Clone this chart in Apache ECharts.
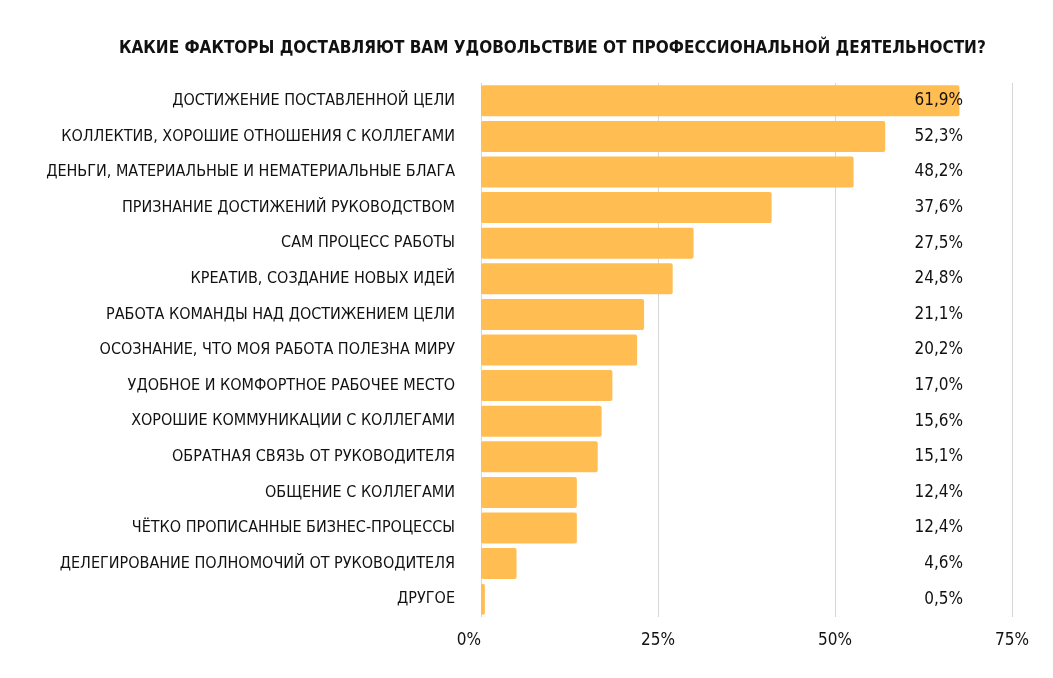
<!DOCTYPE html>
<html>
<head>
<meta charset="utf-8">
<title>Факторы удовольствия от профессиональной деятельности</title>
<script src="https://cdn.jsdelivr.net/npm/echarts@6.0.0/dist/echarts.min.js"></script>
<style>
  html, body { margin: 0; padding: 0; background: #fff; }
  #chart { width: 1053px; height: 678px; }
</style>
</head>
<body>
<div id="chart"></div>
<script>
const titleText = 'КАКИЕ ФАКТОРЫ ДОСТАВЛЯЮТ ВАМ УДОВОЛЬСТВИЕ ОТ ПРОФЕССИОНАЛЬНОЙ ДЕЯТЕЛЬНОСТИ?';

const categories = [
  'ДОСТИЖЕНИЕ ПОСТАВЛЕННОЙ ЦЕЛИ',
  'КОЛЛЕКТИВ, ХОРОШИЕ ОТНОШЕНИЯ С КОЛЛЕГАМИ',
  'ДЕНЬГИ, МАТЕРИАЛЬНЫЕ И НЕМАТЕРИАЛЬНЫЕ БЛАГА',
  'ПРИЗНАНИЕ ДОСТИЖЕНИЙ РУКОВОДСТВОМ',
  'САМ ПРОЦЕСС РАБОТЫ',
  'КРЕАТИВ, СОЗДАНИЕ НОВЫХ ИДЕЙ',
  'РАБОТА КОМАНДЫ НАД ДОСТИЖЕНИЕМ ЦЕЛИ',
  'ОСОЗНАНИЕ, ЧТО МОЯ РАБОТА ПОЛЕЗНА МИРУ',
  'УДОБНОЕ И КОМФОРТНОЕ РАБОЧЕЕ МЕСТО',
  'ХОРОШИЕ КОММУНИКАЦИИ С КОЛЛЕГАМИ',
  'ОБРАТНАЯ СВЯЗЬ ОТ РУКОВОДИТЕЛЯ',
  'ОБЩЕНИЕ С КОЛЛЕГАМИ',
  'ЧЁТКО ПРОПИСАННЫЕ БИЗНЕС-ПРОЦЕССЫ',
  'ДЕЛЕГИРОВАНИЕ ПОЛНОМОЧИЙ ОТ РУКОВОДИТЕЛЯ',
  'ДРУГОЕ'
];

const values = [61.9, 52.3, 48.2, 37.6, 27.5, 24.8, 21.1, 20.2, 17.0, 15.6, 15.1, 12.4, 12.4, 4.6, 0.5];

// scale shown under the chart
const axisMin = 0;
const axisMax = 75;
const axisStep = 25;

const valueLabels = values.map(v => v.toFixed(1).replace('.', ',') + '%');

const FONT = "'Liberation Sans Narrow', 'DejaVu Sans Condensed', 'DejaVu Sans', sans-serif";

const myChart = echarts.init(document.getElementById('chart'));

const option = {
  backgroundColor: '#ffffff',
  animation: false,
  title: {
    text: titleText,
    left: 114,
    top: 35,
    textStyle: {
      fontFamily: FONT,
      fontWeight: 'bold',
      fontSize: 17,
      color: '#111111'
    }
  },
  grid: {
    left: 481,
    right: 41,
    top: 83,
    bottom: 61
  },
  xAxis: [
    {
      type: 'value',
      min: axisMin,
      max: axisMax,
      interval: axisStep,
      axisLine: { show: false },
      axisTick: { show: false },
      splitLine: {
        show: true,
        lineStyle: { color: '#d6d6d6', width: 1 }
      },
      axisLabel: {
        formatter: '{value}%',
        color: '#111111',
        fontFamily: FONT,
        fontSize: 17,
        margin: 15,
        alignMinLabel: 'right'
      }
    },
    {
      // the bars in the picture run on a slightly wider scale than the grid
      type: 'value',
      min: 0,
      max: 68.7,
      show: false
    }
  ],
  yAxis: [
    {
      type: 'category',
      inverse: true,
      data: categories,
      axisLine: { show: false },
      axisTick: { show: false },
      axisLabel: {
        color: '#111111',
        fontFamily: FONT,
        fontSize: 16,
        margin: 26
      }
    },
    {
      type: 'category',
      inverse: true,
      position: 'right',
      z: 10,
      data: valueLabels,
      axisLine: { show: false },
      axisTick: { show: false },
      axisLabel: {
        color: '#111111',
        fontFamily: FONT,
        fontSize: 17,
        align: 'right',
        margin: -49
      }
    }
  ],
  series: [
    {
      type: 'bar',
      xAxisIndex: 1,
      yAxisIndex: 0,
      data: values,
      barCategoryGap: '13%',
      itemStyle: {
        color: '#FFBD52',
        borderRadius: 2
      }
    }
  ]
};

myChart.setOption(option);
</script>
</body>
</html>
